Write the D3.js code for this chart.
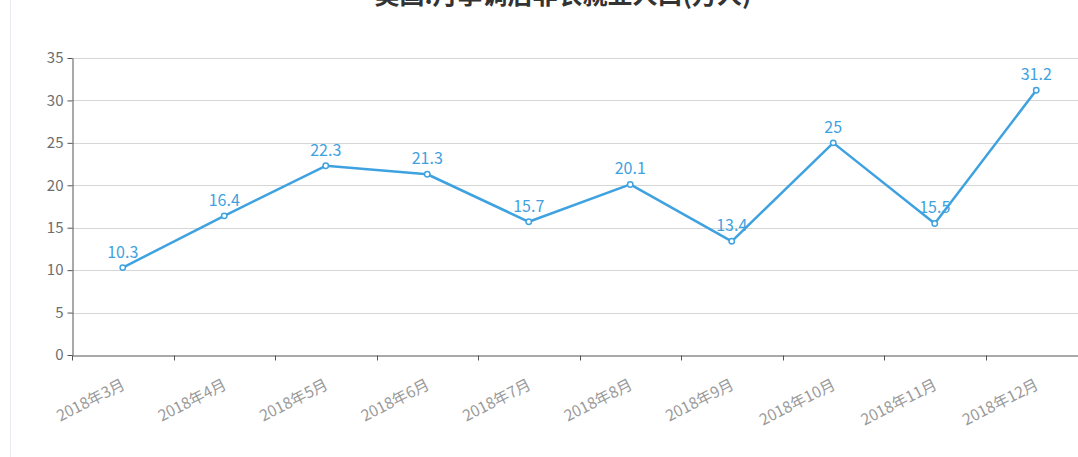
<!DOCTYPE html>
<meta charset="utf-8">
<style>
body { margin: 0; background: #fff; overflow: hidden; }
text { font-family: "Noto Sans CJK SC", "Noto Sans", sans-serif; }
.grid line { stroke: #d6d6d6; }
.axis path, .axis line { stroke: #555; }
.axis text { fill: #6e6e6e; font-size: 15px; }
</style>
<body>
<script src="https://d3js.org/d3.v7.min.js"></script>
<script>

const width = 1078,
    height = 457

// data
var months = ['2018年3月', '2018年4月', '2018年5月', '2018年6月', '2018年7月',
    '2018年8月', '2018年9月', '2018年10月', '2018年11月', '2018年12月']
var jobs = [10.3, 16.4, 22.3, 21.3, 15.7, 20.1, 13.4, 25, 15.5, 31.2]
var yTicks = [0, 5, 10, 15, 20, 25, 30, 35]
var title = '美国:月季调后非农就业人口(万人)'

var color = '#3fa2e0'

var svg = d3.select('body')
    .append('svg')
    .attr('width', width)
    .attr('height', height)

// faint container border on the left
svg.append('line')
    .attr('x1', 10.5).attr('x2', 10.5)
    .attr('y1', 0).attr('y2', height)
    .attr('stroke', '#e6eaf0')

// title is cut off by the top edge, as in the source picture
svg.append('text')
    .attr('x', 563)
    .attr('y', 4)
    .attr('text-anchor', 'middle')
    .style('font-size', '25px')
    .style('font-weight', 'bold')
    .style('fill', '#333')
    .text(title)

var x = d3.scaleBand()
    .domain(months)
    .range([72, 1087])

var y = d3.scaleLinear()
    .domain([0, 35])
    .range([355, 58])

svg.append('g')
    .attr('class', 'grid')
    .selectAll('line')
    .data(yTicks.slice(1))
    .enter().append('line')
    .attr('x1', 72).attr('x2', width)
    .attr('y1', function (d) { return Math.round(y(d)) + 0.5 })
    .attr('y2', function (d) { return Math.round(y(d)) + 0.5 })

svg.append('g')
    .attr('class', 'axis')
    .attr('transform', 'translate(72.5,0)')
    .call(d3.axisLeft(y).tickValues(yTicks).tickSize(5).tickPadding(4).tickSizeOuter(0))

var xAxis = svg.append('g')
    .attr('class', 'axis')
    .attr('transform', 'translate(0,355.5)')
    .call(d3.axisBottom(x).tickSize(0).tickSizeOuter(0))

// ticks on the band boundaries
xAxis.selectAll('.bound')
    .data(months)
    .enter().append('line')
    .attr('class', 'bound')
    .attr('x1', function (d) { return Math.round(x(d)) + 0.5 })
    .attr('x2', function (d) { return Math.round(x(d)) + 0.5 })
    .attr('y1', 0).attr('y2', 5)

xAxis.selectAll('.tick text')
    .attr('text-anchor', 'end')
    .attr('dy', 0)
    .attr('transform', 'translate(2,30) rotate(-27)')
    .style('font-size', '15.5px')
    .style('fill', '#9a9a9a')

var line = d3.line()
    .x(function (d, i) { return x(months[i]) + x.bandwidth() / 2 })
    .y(function (d) { return y(d) })

svg.append('path')
    .datum(jobs)
    .attr('d', line)
    .attr('fill', 'none')
    .attr('stroke', color)
    .attr('stroke-width', 2.5)
    .attr('stroke-linejoin', 'round')

svg.selectAll('.dot')
    .data(jobs)
    .enter().append('circle')
    .attr('class', 'dot')
    .attr('cx', function (d, i) { return x(months[i]) + x.bandwidth() / 2 })
    .attr('cy', function (d) { return y(d) })
    .attr('r', 2.7)
    .attr('fill', '#fff')
    .attr('stroke', color)
    .attr('stroke-width', 1.5)

svg.selectAll('.value')
    .data(jobs)
    .enter().append('text')
    .attr('class', 'value')
    .attr('x', function (d, i) { return x(months[i]) + x.bandwidth() / 2 })
    .attr('y', function (d) { return y(d) - 10 })
    .attr('text-anchor', 'middle')
    .style('font-size', '16px')
    .style('fill', color)
    .text(function (d) { return d })

</script>
</body>
